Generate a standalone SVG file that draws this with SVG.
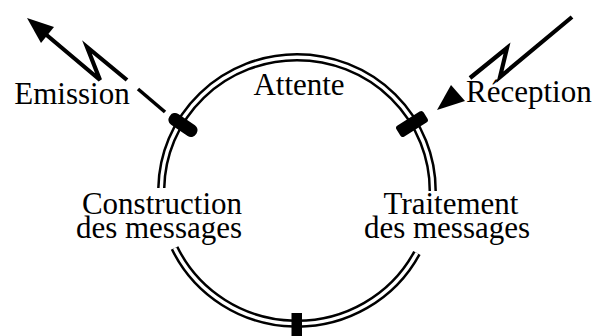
<svg xmlns="http://www.w3.org/2000/svg" width="596" height="336" viewBox="0 0 596 336">
  <style>
    .ring-outer { fill: none; stroke: #000; stroke-width: 8.4; }
    .ring-inner { fill: none; stroke: #fff; stroke-width: 3.4; }
    .bolt { fill: none; stroke: #000; stroke-width: 4.2; stroke-linejoin: miter; stroke-linecap: butt; }
    .mark { fill: #000; }
    .label { font-family: "Liberation Serif", "Times New Roman", serif; font-size: 31px; fill: #000; }
  </style>
  <rect width="596" height="336" fill="#fff"/>

  <!-- double-lined state cycle, split where the side labels sit -->
  <g id="cycle">
    <path class="ring-outer" d="M 161.3 188 A 135.75 133.25 0 0 1 297 57.25 A 135.75 133.25 0 0 1 432.7 191"/>
    <path class="ring-inner" d="M 161.3 188 A 135.75 133.25 0 0 1 297 57.25 A 135.75 133.25 0 0 1 432.7 191"/>
    <path class="ring-outer" d="M 174.6 248 A 135.75 133.25 0 0 0 416.9 253"/>
    <path class="ring-inner" d="M 174.6 248 A 135.75 133.25 0 0 0 416.9 253"/>
  </g>

  <!-- transition ticks across the ring -->
  <g id="ticks">
    <rect class="mark" x="-16" y="-6.5" width="32" height="13" rx="6" transform="translate(183 125) rotate(34)"/>
    <rect class="mark" x="-16" y="-6.5" width="32" height="13" rx="3" transform="translate(412 124) rotate(-32)"/>
    <rect class="mark" x="291.5" y="313" width="10.5" height="30"/>
  </g>

  <!-- outgoing and incoming signals -->
  <g id="connectors">
    <g id="emission-signal">
      <path class="bolt" d="M 127 80 L 87 47 L 100 80 L 46 34.5"/>
      <polygon class="mark" points="27,18 41,43 54,27"/>
      <line x1="138" y1="89" x2="165" y2="112" stroke="#000" stroke-width="3.6"/>
    </g>
    <g id="reception-signal">
      <path class="bolt" d="M 572 17 L 500 77 L 507 48 L 470 78"/>
      <polygon class="mark" points="437,110 451,85 465,101"/>
    </g>
  </g>

  <g id="state-attente">
    <text class="label" x="299" y="95" text-anchor="middle">Attente</text>
  </g>
  <g id="state-construction">
    <text class="label" text-anchor="middle"><tspan x="162" y="214">Construction</tspan><tspan x="159" y="237.5">des messages</tspan></text>
  </g>
  <g id="state-traitement">
    <text class="label" text-anchor="middle"><tspan x="451" y="214">Traitement</tspan><tspan x="447" y="237.5">des messages</tspan></text>
  </g>
  <g id="label-emission">
    <text class="label" x="72" y="104" text-anchor="middle">Emission</text>
  </g>
  <g id="label-reception">
    <text class="label" x="466" y="102">Réception</text>
  </g>
</svg>
